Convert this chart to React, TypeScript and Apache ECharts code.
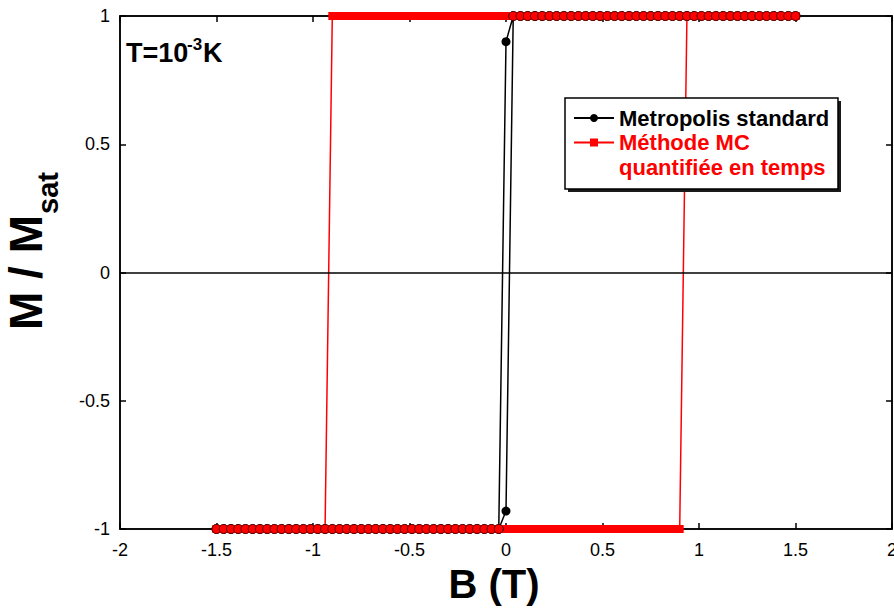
import React, { useEffect, useRef } from 'react';
import * as echarts from 'echarts';

const FONT = '"Liberation Sans", Arial, Helvetica, sans-serif';

// Applied field sweep (T), increasing branch
const fieldUp = [
  -1.5, -1.4625, -1.425, -1.3875, -1.35, -1.3125, -1.275, -1.2375, -1.2, -1.1625,
  -1.125, -1.0875, -1.05, -1.0125, -0.975, -0.9375, -0.9, -0.8625, -0.825, -0.7875,
  -0.75, -0.7125, -0.675, -0.6375, -0.6, -0.5625, -0.525, -0.4875, -0.45, -0.4125,
  -0.375, -0.3375, -0.3, -0.2625, -0.225, -0.1875, -0.15, -0.1125, -0.075, -0.0375,
  0,
  0.0375, 0.075, 0.1125, 0.15, 0.1875, 0.225, 0.2625, 0.3, 0.3375, 0.375,
  0.4125, 0.45, 0.4875, 0.525, 0.5625, 0.6, 0.6375, 0.675, 0.7125, 0.75,
  0.7875, 0.825, 0.8625, 0.9, 0.9375, 0.975, 1.0125, 1.05, 1.0875, 1.125,
  1.1625, 1.2, 1.2375, 1.275, 1.3125, 1.35, 1.3875, 1.425, 1.4625, 1.5,
];
// decreasing branch: same field values swept from +1.5 down to -1.5
const fieldDown = fieldUp.slice().reverse();

// Metropolis standard, M/Msat along fieldDown
const metropolisDown = [
  1, 1, 1, 1, 1, 1, 1, 1, 1, 1,
  1, 1, 1, 1, 1, 1, 1, 1, 1, 1,
  1, 1, 1, 1, 1, 1, 1, 1, 1, 1,
  1, 1, 1, 1, 1, 1, 1, 1, 1, 1,
  0.9,
  -1, -1, -1, -1, -1, -1, -1, -1, -1, -1,
  -1, -1, -1, -1, -1, -1, -1, -1, -1, -1,
  -1, -1, -1, -1, -1, -1, -1, -1, -1, -1,
  -1, -1, -1, -1, -1, -1, -1, -1, -1, -1,
];
// Metropolis standard, M/Msat along fieldUp
const metropolisUp = [
  -1, -1, -1, -1, -1, -1, -1, -1, -1, -1,
  -1, -1, -1, -1, -1, -1, -1, -1, -1, -1,
  -1, -1, -1, -1, -1, -1, -1, -1, -1, -1,
  -1, -1, -1, -1, -1, -1, -1, -1, -1, -1,
  -0.93,
  1, 1, 1, 1, 1, 1, 1, 1, 1, 1,
  1, 1, 1, 1, 1, 1, 1, 1, 1, 1,
  1, 1, 1, 1, 1, 1, 1, 1, 1, 1,
  1, 1, 1, 1, 1, 1, 1, 1, 1, 1,
];
// Time-quantified MC method, M/Msat along fieldDown
const mcDown = [
  1, 1, 1, 1, 1, 1, 1, 1, 1, 1,
  1, 1, 1, 1, 1, 1, 1, 1, 1, 1,
  1, 1, 1, 1, 1, 1, 1, 1, 1, 1,
  1, 1, 1, 1, 1, 1, 1, 1, 1, 1,
  1, 1, 1, 1, 1, 1, 1, 1, 1, 1,
  1, 1, 1, 1, 1, 1, 1, 1, 1, 1,
  1, 1, 1, 1, 1,
  -1, -1, -1, -1, -1, -1, -1, -1, -1, -1,
  -1, -1, -1, -1, -1, -1,
];
// Time-quantified MC method, M/Msat along fieldUp
const mcUp = [
  -1, -1, -1, -1, -1, -1, -1, -1, -1, -1,
  -1, -1, -1, -1, -1, -1, -1, -1, -1, -1,
  -1, -1, -1, -1, -1, -1, -1, -1, -1, -1,
  -1, -1, -1, -1, -1, -1, -1, -1, -1, -1,
  -1, -1, -1, -1, -1, -1, -1, -1, -1, -1,
  -1, -1, -1, -1, -1, -1, -1, -1, -1, -1,
  -1, -1, -1, -1, -1,
  1, 1, 1, 1, 1, 1, 1, 1, 1, 1,
  1, 1, 1, 1, 1, 1,
];

const seriesNames = ['Metropolis standard', 'Méthode MC\nquantifiée en temps'];

export default function App() {
  const ref = useRef<HTMLDivElement>(null);

  useEffect(() => {
    document.body.style.margin = '0';
    if (!ref.current) return;
    const chart = echarts.init(ref.current, null, { renderer: 'svg' });

    const satStyle = { color: '#ff0000', borderColor: '#3a0000', borderWidth: 0.8 };
    const metroData = [
      ...fieldDown.map((b, i) => [b, metropolisDown[i]]),
      ...fieldUp.map((b, i) => [b, metropolisUp[i]]),
    ].map((p) => (Math.abs(p[1]) === 1 ? { value: p, itemStyle: satStyle } : { value: p }));
    const mcData = [
      ...fieldDown.map((b, i) => [b, mcDown[i]]),
      ...fieldUp.map((b, i) => [b, mcUp[i]]),
    ];

    const axisLine = { show: true, onZero: false, lineStyle: { color: '#000', width: 1.5 } };
    const axisTick = { show: true, inside: true, length: 6, lineStyle: { color: '#000', width: 1.5 } };

    chart.setOption({
      animation: false,
      backgroundColor: '#ffffff',
      textStyle: { fontFamily: FONT },
      grid: {
        left: 120, right: 2, top: 16, bottom: 79,
        containLabel: false, outerBoundsMode: 'none',
        show: true, borderColor: '#000', borderWidth: 1.5, backgroundColor: 'transparent',
      },
      xAxis: [
        {
          type: 'value', min: -2, max: 2, interval: 0.5, position: 'bottom',
          axisLine, axisTick,
          axisLabel: { color: '#000', fontSize: 18, margin: 12, fontFamily: FONT },
          splitLine: { show: false },
          name: 'B (T)', nameLocation: 'middle', nameGap: 35,
          nameTextStyle: { fontSize: 40, fontWeight: 'bold', color: '#000', fontFamily: FONT, padding: [0, 24, 0, 0] },
        },
        {
          type: 'value', min: -2, max: 2, interval: 0.5, position: 'top',
          axisLine, axisTick, axisLabel: { show: false }, splitLine: { show: false },
        },
      ],
      yAxis: [
        {
          type: 'value', min: -1, max: 1, interval: 0.5, position: 'left',
          axisLine, axisTick,
          axisLabel: { color: '#000', fontSize: 18, margin: 10, fontFamily: FONT },
          splitLine: { show: false },
        },
        {
          type: 'value', min: -1, max: 1, interval: 0.5, position: 'right',
          axisLine, axisTick, axisLabel: { show: false }, splitLine: { show: false },
        },
      ],
      legend: {
        orient: 'vertical', left: 573, top: 105, padding: 0, itemGap: -25.5,
        itemWidth: 40, itemHeight: 10, selectedMode: false, z: 100,
        textStyle: { fontSize: 22, fontWeight: 'bold', fontFamily: FONT, lineHeight: 25 },
        // a leading empty line keeps the marker level with the first text line
        formatter: (name: string) => (name === seriesNames[1] ? '\n' + name : name),
        data: [
          { name: seriesNames[0], textStyle: { color: '#000' } },
          { name: seriesNames[1], textStyle: { color: '#ff0000' } },
        ],
      },
      graphic: [
        { type: 'rect', z: 50, shape: { x: 568, y: 101, width: 273, height: 91 }, style: { fill: '#1a1a1a' } },
        { type: 'rect', z: 51, shape: { x: 565, y: 98, width: 273, height: 91 }, style: { fill: '#fff', stroke: '#000', lineWidth: 1.5 } },
        { type: 'text', z: 60, x: 126, y: 53, style: { text: 'T=10', fontSize: 27, fontWeight: 'bold', fontFamily: FONT, fill: '#000', verticalAlign: 'middle' } },
        { type: 'text', z: 60, x: 187, y: 44, style: { text: '-3', fontSize: 17, fontWeight: 'bold', fontFamily: FONT, fill: '#000', verticalAlign: 'middle' } },
        { type: 'text', z: 60, x: 203, y: 53, style: { text: 'K', fontSize: 27, fontWeight: 'bold', fontFamily: FONT, fill: '#000', verticalAlign: 'middle' } },
        {
          type: 'group', x: 42, y: 330, rotation: Math.PI / 2, z: 60,
          children: [
            { type: 'text', x: 0, y: -16, style: { text: 'M / M', fontSize: 46, fontWeight: 'bold', fontFamily: FONT, fill: '#000', verticalAlign: 'middle' } },
            { type: 'text', x: 116, y: 6, style: { text: 'sat', fontSize: 29, fontWeight: 'bold', fontFamily: FONT, fill: '#000', verticalAlign: 'middle' } },
          ],
        },
      ],
      series: [
        {
          name: seriesNames[1], type: 'line', xAxisIndex: 0, yAxisIndex: 0,
          data: mcData, symbol: 'rect', symbolSize: 8, clip: false, z: 2,
          lineStyle: { color: '#ff0000', width: 1.5 }, itemStyle: { color: '#ff0000' },
          emphasis: { disabled: true },
          markLine: {
            silent: true, symbol: 'none', label: { show: false },
            lineStyle: { color: '#000', width: 1.5, type: 'solid' },
            emphasis: { disabled: true },
            data: [{ yAxis: 0 }],
          },
        },
        {
          name: seriesNames[0], type: 'line', xAxisIndex: 0, yAxisIndex: 0,
          data: metroData, symbol: 'circle', symbolSize: 9, clip: false, z: 3,
          lineStyle: { color: '#000', width: 1.5 }, itemStyle: { color: '#000' },
          emphasis: { disabled: true },
        },
      ],
    });

    return () => chart.dispose();
  }, []);

  return <div ref={ref} style={{ width: 894, height: 608 }} />;
}
